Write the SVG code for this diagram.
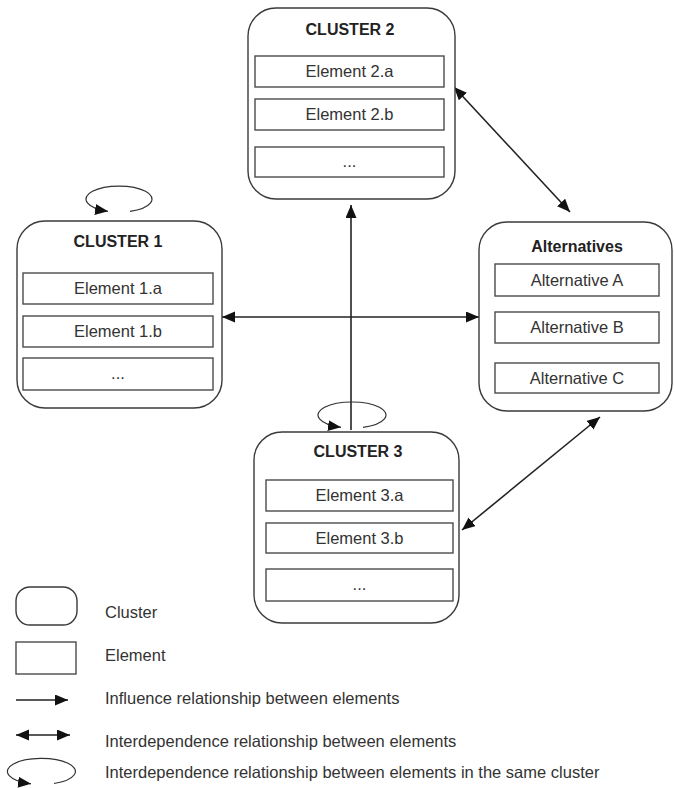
<svg xmlns="http://www.w3.org/2000/svg" width="675" height="788" viewBox="0 0 675 788">
  <defs>
    <style>
      .cluster { fill: #fff; stroke: #3a3a3a; stroke-width: 1.4; }
      .element { fill: #fff; stroke: #4a4a4a; stroke-width: 1.4; }
      .title { font-family: "Liberation Sans", Arial, sans-serif; font-size: 16px; font-weight: bold; fill: #222; text-anchor: middle; }
      .label { font-family: "Liberation Sans", Arial, sans-serif; font-size: 16.5px; fill: #333; text-anchor: middle; }
      .legend { font-family: "Liberation Sans", Arial, sans-serif; font-size: 16.5px; fill: #333; }
      .link { fill: none; stroke: #222; stroke-width: 1.6; }
      .loop { fill: none; stroke: #333; stroke-width: 1.2; }
    </style>
    <marker id="head" markerUnits="userSpaceOnUse" markerWidth="14" markerHeight="12" refX="13" refY="5.5" orient="auto-start-reverse" viewBox="0 0 14 12">
      <path d="M0,0 L13,5.5 L0,11 z" fill="#111"/>
    </marker>
  </defs>

  <!-- connectors -->
  <g id="connectors">
    <line class="link" x1="222" y1="317" x2="479" y2="317" marker-start="url(#head)" marker-end="url(#head)"/>
    <line class="link" x1="351" y1="430" x2="351" y2="205" marker-end="url(#head)"/>
    <line class="link" x1="454" y1="87" x2="570" y2="212" marker-start="url(#head)" marker-end="url(#head)"/>
    <line class="link" x1="600" y1="417" x2="462" y2="530" marker-start="url(#head)" marker-end="url(#head)"/>
    <!-- self loops -->
    <path class="loop" d="M130,211.3 A33,13 0 1 0 108,211.3" marker-end="url(#head)"/>
    <path class="loop" d="M363,427.3 A34,13 0 1 0 341,427.3" marker-end="url(#head)"/>
  </g>

  <!-- cluster 2 -->
  <g id="cluster2">
    <rect class="cluster" x="248" y="8" width="207" height="191" rx="28" ry="28"/>
    <text class="title" x="350" y="35">CLUSTER 2</text>
    <rect class="element" x="255" y="56" width="189" height="31"/>
    <text class="label" x="349.5" y="77">Element 2.a</text>
    <rect class="element" x="255" y="99" width="189" height="31"/>
    <text class="label" x="349.5" y="120">Element 2.b</text>
    <rect class="element" x="255" y="147" width="189" height="30"/>
    <text class="label" x="349.5" y="167">...</text>
  </g>

  <!-- cluster 1 -->
  <g id="cluster1">
    <rect class="cluster" x="17" y="221" width="205" height="187" rx="28" ry="28"/>
    <text class="title" x="118" y="247">CLUSTER 1</text>
    <rect class="element" x="23" y="273" width="190" height="31"/>
    <text class="label" x="118" y="294">Element 1.a</text>
    <rect class="element" x="23" y="316" width="190" height="31"/>
    <text class="label" x="118" y="337">Element 1.b</text>
    <rect class="element" x="23" y="358" width="190" height="32"/>
    <text class="label" x="118" y="379">...</text>
  </g>

  <!-- alternatives -->
  <g id="alternatives">
    <rect class="cluster" x="479" y="222" width="193" height="189" rx="28" ry="28"/>
    <text class="title" x="577" y="252">Alternatives</text>
    <rect class="element" x="495" y="264" width="164" height="32"/>
    <text class="label" x="577" y="286">Alternative A</text>
    <rect class="element" x="495" y="312" width="164" height="31"/>
    <text class="label" x="577" y="333">Alternative B</text>
    <rect class="element" x="495" y="363" width="164" height="30"/>
    <text class="label" x="577" y="384">Alternative C</text>
  </g>

  <!-- cluster 3 -->
  <g id="cluster3">
    <rect class="cluster" x="254" y="432" width="205" height="191" rx="28" ry="28"/>
    <text class="title" x="358" y="457">CLUSTER 3</text>
    <rect class="element" x="266" y="480" width="187" height="31"/>
    <text class="label" x="359.5" y="501">Element 3.a</text>
    <rect class="element" x="266" y="523" width="187" height="30"/>
    <text class="label" x="359.5" y="544">Element 3.b</text>
    <rect class="element" x="266" y="569" width="187" height="32"/>
    <text class="label" x="359.5" y="590">...</text>
  </g>

  <!-- legend -->
  <g id="legend">
    <rect class="cluster" x="16" y="587" width="61" height="38" rx="14" ry="14"/>
    <text class="legend" x="105" y="618">Cluster</text>
    <rect class="element" x="16" y="642" width="60" height="32"/>
    <text class="legend" x="105" y="661">Element</text>
    <line class="link" x1="16" y1="700" x2="68" y2="700" marker-end="url(#head)"/>
    <text class="legend" x="105" y="704">Influence relationship between elements</text>
    <line class="link" x1="16" y1="735" x2="70" y2="735" marker-start="url(#head)" marker-end="url(#head)"/>
    <text class="legend" x="105" y="747">Interdependence relationship between elements</text>
    <path class="loop" d="M54,783.5 A34,13 0 1 0 31,783.8" marker-end="url(#head)"/>
    <text class="legend" x="105" y="778">Interdependence relationship between elements in the same cluster</text>
  </g>
</svg>
